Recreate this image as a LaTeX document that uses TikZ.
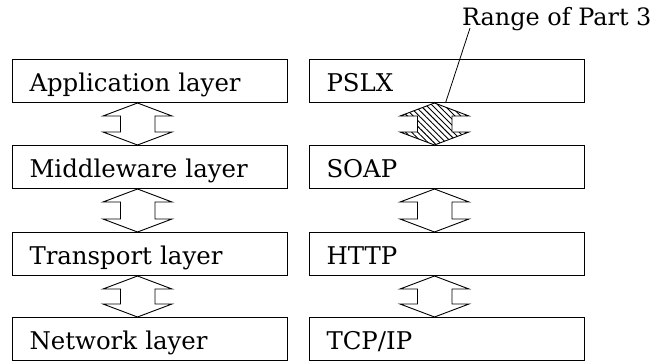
\documentclass[tikz,border=0pt]{standalone}
\usepackage{fontspec}
\setmainfont{DejaVu Serif}
\newfontfamily\layerfont{DejaVu Serif}
\usetikzlibrary{calc,patterns.meta}
\tikzset{
  layer/.style={draw, line width=1bp, anchor=north west,
    inner xsep=17bp, inner ysep=0pt, text width=241bp, align=left,
    text height=32bp, text depth=11bp, font=\layerfont\fontsize{24.5}{28}\selectfont},
  updown/.style={draw, line width=0.9bp, fill=white},
  partthree/.style={draw, line width=0.9bp,
    pattern={Lines[angle=-45, distance=4.2bp, line width=0.9bp]}},
  leader/.style={draw, line width=0.8bp},
  caption/.style={anchor=base west, inner sep=0pt, font=\layerfont\fontsize{24}{28}\selectfont},
}
% double-headed block arrow between the layer above (#2) and the one below (#3)
\newcommand\layerlink[3][updown]{%
  \coordinate (#2-top) at ($(#2.south)+(-12.5,0)$);
  \coordinate (#2-bot) at ($(#3.north)+(-12.5,0)$);
  \path[#1] (#2-top) -- ($(#2-top)+(34.5,-13)$) -- ($(#2-top)+(17.5,-13)$)
    -- ($(#2-bot)+(17.5,13)$) -- ($(#2-bot)+(34.5,13)$) -- (#2-bot)
    -- ($(#2-bot)+(-34.5,13)$) -- ($(#2-bot)+(-17,13)$)
    -- ($(#2-top)+(-17,-13)$) -- ($(#2-top)+(-34.5,-13)$) -- cycle;}
\begin{document}
\begin{tikzpicture}[x=1bp,y=1bp]
  \useasboundingbox (0,0) rectangle (653,362);
  % generic layer model
  \node[layer] (app)  at (12,303) {Application layer};
  \node[layer] (mid)  at (12,217) {Middleware layer};
  \node[layer] (trn)  at (12,130) {Transport layer};
  \node[layer] (net)  at (12,45)  {Network layer};
  % protocol stack
  \node[layer] (pslx) at (309,303) {PSLX};
  \node[layer] (soap) at (309,217) {SOAP};
  \node[layer] (http) at (309,130) {HTTP};
  \node[layer] (tcp)  at (309,45)  {TCP/IP};
  % links between adjacent layers
  \layerlink{app}{mid}
  \layerlink{mid}{trn}
  \layerlink{trn}{net}
  \layerlink[partthree]{pslx}{soap}
  \layerlink{soap}{http}
  \layerlink{http}{tcp}
  % scope of Part 3
  \node[caption] (range) at (462,337) {Range of Part 3};
  \coordinate (rangeend) at ($(pslx.south)+(-1.5,0)$);
  \draw[leader] ($(range.base west)+(8,-3)$) -- (rangeend);
\end{tikzpicture}
\end{document}
